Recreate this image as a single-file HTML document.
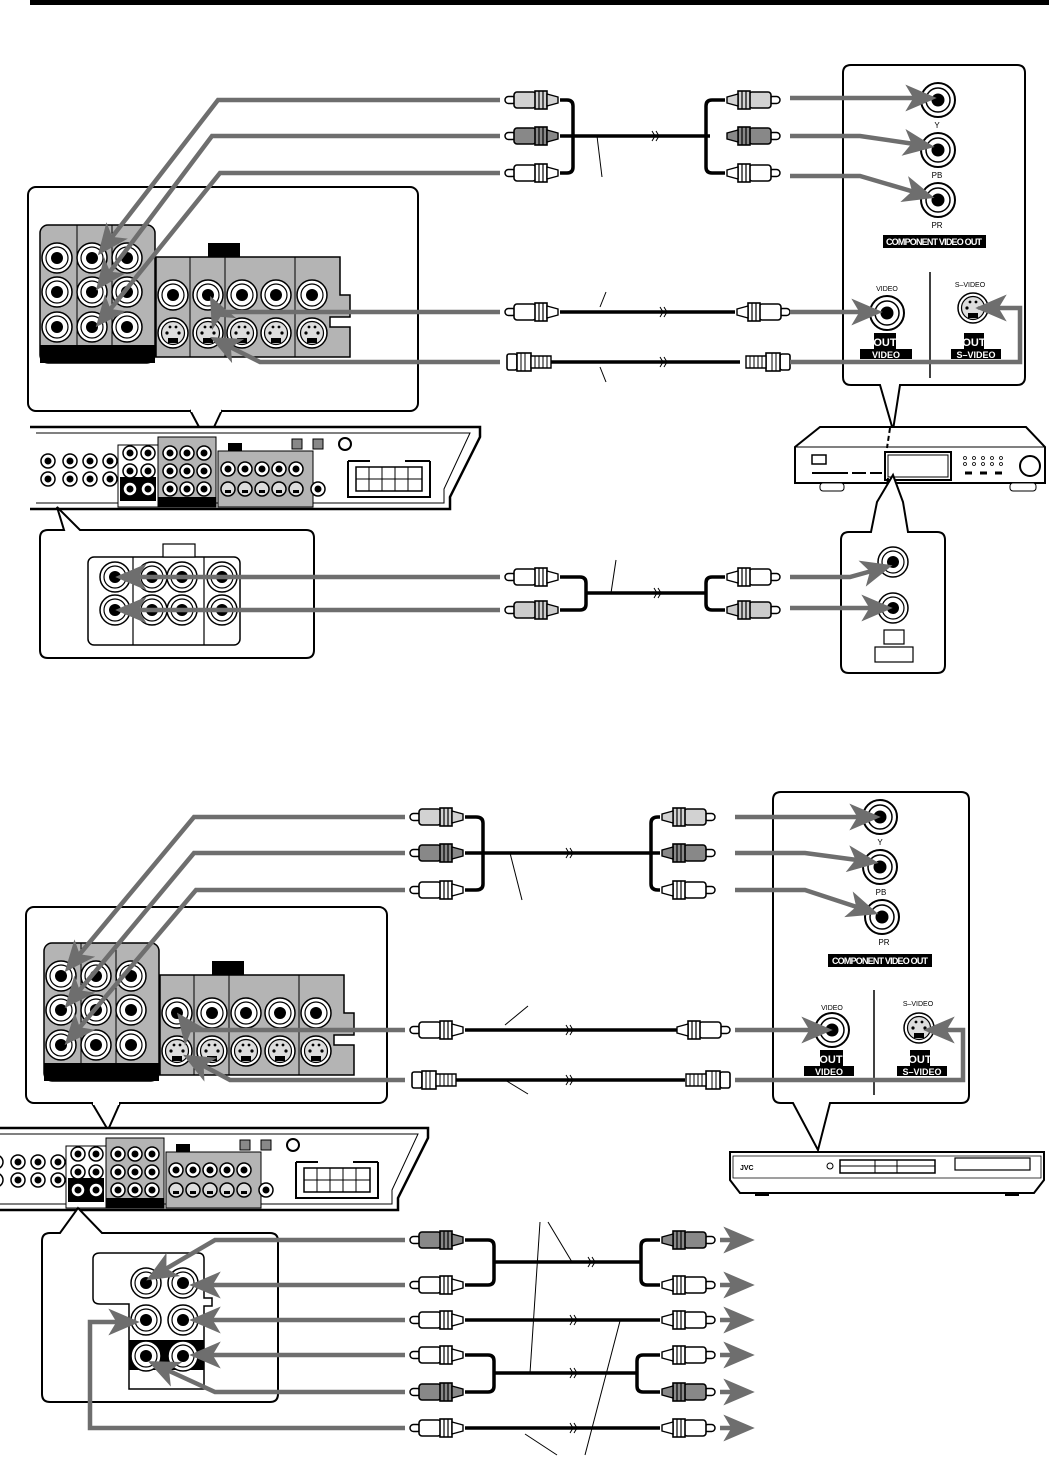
<!DOCTYPE html>
<html><head><meta charset="utf-8"><style>
html,body{margin:0;padding:0;background:#fff;}
svg{display:block;font-family:"Liberation Sans",sans-serif;}
</style></head><body>
<svg width="1049" height="1461" viewBox="0 0 1049 1461" xmlns="http://www.w3.org/2000/svg">
<defs>
<marker id="ah" markerWidth="7" markerHeight="6" refX="5.5" refY="3" orient="auto" markerUnits="strokeWidth"><path d="M0,0 L7,3 L0,6 L1.8,3z" fill="#6e6e6e"/></marker>
<g id="rca"><rect x="0" y="-3.5" width="11" height="7" rx="3.5" fill="#fff" stroke="#000" stroke-width="1.5"/><rect x="9" y="-8" width="22" height="16" rx="3" fill="currentColor" stroke="#000" stroke-width="1.6"/><rect x="30" y="-9" width="12" height="18" fill="currentColor" stroke="#000" stroke-width="1.6"/><path d="M34 -9v18M38 -9v18" stroke="#000" stroke-width="1.2"/><path d="M42 -6 L53 -3 V3 L42 6Z" fill="currentColor" stroke="#000" stroke-width="1.4"/></g>
<g id="rcaR" transform="scale(-1,1)"><use href="#rca"/></g>
<g id="sv"><rect x="0" y="-8" width="10" height="16" rx="2" fill="#fff" stroke="#000" stroke-width="1.6"/><rect x="10" y="-9" width="14" height="18" fill="#fff" stroke="#000" stroke-width="1.6"/><path d="M14 -9v18M18 -9v18" stroke="#000"/><path d="M24 -6 H44 V6 H24Z" fill="#fff" stroke="#000" stroke-width="1.4"/><path d="M28 -6v12M32 -6v12M36 -6v12M40 -6v12" stroke="#000"/></g>
<g id="svR" transform="scale(-1,1)"><use href="#sv"/></g>
<g id="jk"><circle r="17" fill="#fff" stroke="#000" stroke-width="2"/><circle r="12" fill="none" stroke="#000" stroke-width="1.5"/><circle r="6.5" fill="#000"/></g>
<g id="js"><circle r="15" fill="#fff" stroke="#000" stroke-width="1.5"/><circle r="11" fill="none" stroke="#000" stroke-width="1.2"/><circle r="6" fill="#000"/></g>
<g id="jsv"><circle r="15" fill="#fff" stroke="#000" stroke-width="1.5"/><circle r="11.5" fill="#ddd" stroke="#000" stroke-width="1.2"/><rect x="-5" y="5" width="10" height="5" fill="#000"/><circle cx="-6" cy="0" r="1.6"/><circle cx="6" cy="0" r="1.6"/><circle cx="-3" cy="-6" r="1.4"/><circle cx="3" cy="-6" r="1.4"/></g>
<g id="tj"><circle r="7" fill="#fff" stroke="#000" stroke-width="1.5"/><circle r="3.5" fill="#000"/></g>
<g id="tsv"><circle r="7" fill="#ddd" stroke="#000" stroke-width="1.5"/><rect x="-3" y="1" width="6" height="3" fill="#000"/></g>
<g id="panel">
 <rect x="0" y="0" width="115" height="138" rx="8" fill="#b4b4b4" stroke="#000" stroke-width="1.5"/>
 <rect x="0" y="120" width="115" height="18" fill="#000"/>
 <path d="M37 0V120M72 0V120" stroke="#000"/>
 <use href="#js" x="17" y="33"/><use href="#js" x="52" y="33"/><use href="#js" x="87" y="33"/>
 <use href="#js" x="17" y="67"/><use href="#js" x="52" y="67"/><use href="#js" x="87" y="67"/>
 <use href="#js" x="17" y="102"/><use href="#js" x="52" y="102"/><use href="#js" x="87" y="102"/>
 <rect x="168" y="18" width="32" height="14" fill="#000"/>
 <path d="M116 32 H300 V70 H310 V92 H290 V102 H310 V132 H116Z" fill="#b4b4b4" stroke="#000" stroke-width="1.5"/>
 <path d="M150 32V132M185 32V132M255 32V132" stroke="#000"/>
 <use href="#js" x="133" y="70"/><use href="#js" x="168" y="70"/><use href="#js" x="202" y="70"/><use href="#js" x="236" y="70"/><use href="#js" x="272" y="70"/>
 <use href="#jsv" x="133" y="108"/><use href="#jsv" x="168" y="108"/><use href="#jsv" x="202" y="108"/><use href="#jsv" x="236" y="108"/><use href="#jsv" x="272" y="108"/>
</g>
<g id="recv">
 <path d="M0 0 H450 V10 L420 70 V82 H0" fill="#fff" stroke="#000" stroke-width="2.5"/>
 <path d="M6 6 H440 L414 62 V76 H6" fill="none" stroke="#000" stroke-width="1"/>
 <rect x="88" y="18" width="40" height="62" fill="#fff" stroke="#000"/>
 <rect x="90" y="50" width="36" height="24" fill="#000"/>
 <rect x="128" y="10" width="58" height="70" fill="#b4b4b4" stroke="#000"/>
 <rect x="128" y="70" width="58" height="10" fill="#000"/>
 <rect x="188" y="24" width="95" height="56" fill="#b4b4b4" stroke="#000"/>
 <rect x="198" y="16" width="14" height="8" fill="#000"/>
 <use href="#tj" x="40" y="34"/><use href="#tj" x="60" y="34"/><use href="#tj" x="80" y="34"/>
 <use href="#tj" x="40" y="52"/><use href="#tj" x="60" y="52"/><use href="#tj" x="80" y="52"/><use href="#tj" x="18" y="52"/><use href="#tj" x="18" y="34"/>
 <use href="#tj" x="100" y="26"/><use href="#tj" x="118" y="26"/><use href="#tj" x="100" y="44"/><use href="#tj" x="118" y="44"/><use href="#tj" x="100" y="62"/><use href="#tj" x="118" y="62"/>
 <use href="#tj" x="140" y="26"/><use href="#tj" x="157" y="26"/><use href="#tj" x="174" y="26"/>
 <use href="#tj" x="140" y="44"/><use href="#tj" x="157" y="44"/><use href="#tj" x="174" y="44"/>
 <use href="#tj" x="140" y="62"/><use href="#tj" x="157" y="62"/><use href="#tj" x="174" y="62"/>
 <use href="#tj" x="198" y="42"/><use href="#tj" x="215" y="42"/><use href="#tj" x="232" y="42"/><use href="#tj" x="249" y="42"/><use href="#tj" x="266" y="42"/>
 <use href="#tsv" x="198" y="62"/><use href="#tsv" x="215" y="62"/><use href="#tsv" x="232" y="62"/><use href="#tsv" x="249" y="62"/><use href="#tsv" x="266" y="62"/>
 <use href="#tj" x="288" y="62"/>
 <rect x="262" y="12" width="10" height="10" fill="#888" stroke="#000"/><rect x="283" y="12" width="10" height="10" fill="#888" stroke="#000"/><circle cx="315" cy="17" r="6" fill="#fff" stroke="#000" stroke-width="2"/>
 <path d="M318 34 H340 M400 34 H375 M318 34 V70 H400 V34" fill="none" stroke="#000" stroke-width="2"/>
 <rect x="326" y="40" width="66" height="24" fill="#fff" stroke="#000" stroke-width="1.5"/>
 <path d="M339 40V64M352 40V64M365 40V64M378 40V64M326 52H392" stroke="#000"/>
</g>
</defs>

<rect x="30" y="0" width="1019" height="5" fill="#000"/>

<!-- ===== TOP SECTION ===== -->
<rect x="28" y="187" width="390" height="224" rx="8" fill="#fff" stroke="#000" stroke-width="2"/>
<path d="M190 410 L207 442 L222 410" fill="#fff" stroke="#000" stroke-width="2"/>
<rect x="191" y="408" width="30" height="4" fill="#fff"/>
<use href="#panel" x="40" y="225"/>

<use href="#recv" x="30" y="427"/>

<path d="M560 100 H567 Q573 100 573 106 V167 Q573 173 567 173 H560 M560 136 H710 M725 100 H712 Q706 100 706 106 V167 Q706 173 712 173 H725" fill="none" stroke="#000" stroke-width="3.5"/>
<path d="M652 131 l3 5 l-3 5 M656 131 l3 5 l-3 5" fill="none" stroke="#000" stroke-width="1"/>
<use href="#rca" x="505" y="100" color="#d2d2d2"/>
<use href="#rca" x="505" y="136" color="#888"/>
<use href="#rca" x="505" y="173" color="#fff"/>
<use href="#rcaR" x="780" y="100" color="#d2d2d2"/>
<use href="#rcaR" x="780" y="136" color="#888"/>
<use href="#rcaR" x="780" y="173" color="#fff"/>
<path d="M597 136 L602 177" stroke="#000"/>

<path d="M560 312 H735" stroke="#000" stroke-width="3.5"/>
<use href="#rca" x="505" y="312" color="#fff"/>
<use href="#rcaR" x="790" y="312" color="#fff"/>
<path d="M600 307 L606 292" stroke="#000"/>
<path d="M660 307 l3 5 l-3 5 M664 307 l3 5 l-3 5" fill="none" stroke="#000"/>
<path d="M550 362 H740" stroke="#000" stroke-width="3.5"/>
<use href="#sv" x="507" y="362"/>
<use href="#svR" x="790" y="362"/>
<path d="M600 367 L606 382" stroke="#000"/>
<path d="M660 357 l3 5 l-3 5 M664 357 l3 5 l-3 5" fill="none" stroke="#000"/>

<!-- DVD callout top -->
<path d="M853 65 H1017 Q1025 65 1025 73 V377 Q1025 385 1017 385 H900 L893 430 L880 385 H851 Q843 385 843 377 V73 Q843 65 851 65Z" fill="#fff" stroke="#000" stroke-width="2"/>
<use href="#jk" x="938" y="100"/>
<use href="#jk" x="938" y="150"/>
<use href="#jk" x="938" y="200"/>
<text x="937" y="128" font-size="8" text-anchor="middle">Y</text>
<text x="937" y="178" font-size="8" text-anchor="middle">PB</text>
<text x="937" y="228" font-size="8" text-anchor="middle">PR</text>
<rect x="883" y="235" width="103" height="13" fill="#000"/>
<text x="934" y="245" font-size="9" font-weight="bold" fill="#fff" text-anchor="middle" textLength="96">COMPONENT VIDEO OUT</text>
<path d="M930 272 V378" stroke="#000" stroke-width="1.5"/>
<text x="887" y="291" font-size="7" text-anchor="middle">VIDEO</text>
<text x="970" y="287" font-size="7" text-anchor="middle">S–VIDEO</text>
<use href="#jk" x="887" y="313"/>
<use href="#jsv" x="973" y="308"/>
<rect x="874" y="333" width="22" height="16" fill="#000"/><text x="885" y="346" font-size="11" font-weight="bold" fill="#fff" text-anchor="middle">OUT</text>
<rect x="860" y="349" width="52" height="10" fill="#000"/><text x="886" y="358" font-size="9" font-weight="bold" fill="#fff" text-anchor="middle">VIDEO</text>
<rect x="964" y="333" width="20" height="16" fill="#000"/><text x="974" y="346" font-size="11" font-weight="bold" fill="#fff" text-anchor="middle">OUT</text>
<rect x="951" y="349" width="50" height="10" fill="#000"/><text x="976" y="358" font-size="9" font-weight="bold" fill="#fff" text-anchor="middle">S–VIDEO</text>

<g fill="none" stroke="#6e6e6e" stroke-width="4.5" marker-end="url(#ah)">
<path d="M500 100 H218 L102 250"/>
<path d="M500 136 H212 L100 285"/>
<path d="M500 173 H220 L100 322"/>
<path d="M500 312 H218 L213 302"/>
<path d="M500 362 H260 L216 340"/>
<path d="M790 98 H930"/>
<path d="M790 136 H860 L928 146"/>
<path d="M790 176 H860 L928 196"/>
<path d="M790 312 H876"/>
<path d="M790 362 H1020 V308 H982"/>
</g>

<!-- DVD device top -->
<path d="M820 427 H1026 L1045 447 V483 H795 V447Z" fill="#fff" stroke="#000" stroke-width="2"/>
<path d="M795 447 H1045" stroke="#000"/>
<rect x="820" y="483" width="24" height="8" rx="3" fill="#fff" stroke="#000"/>
<rect x="1010" y="483" width="26" height="8" rx="3" fill="#fff" stroke="#000"/>
<rect x="812" y="455" width="14" height="9" fill="#fff" stroke="#000" stroke-width="1.5"/>
<path d="M812 473 H848 M852 473 H866 M870 473 H882" stroke="#000" stroke-width="2"/>
<rect x="885" y="452" width="66" height="28" fill="#fff" stroke="#000" stroke-width="2"/>
<rect x="888" y="455" width="60" height="22" fill="none" stroke="#000"/>
<circle cx="1030" cy="466" r="10" fill="#fff" stroke="#000" stroke-width="2"/>
<path d="M965 473 H972 M980 473 H987 M995 473 H1002" stroke="#000" stroke-width="3"/>
<g fill="none" stroke="#000" stroke-width="0.8"><circle cx="965" cy="458" r="1.5"/><circle cx="974" cy="458" r="1.5"/><circle cx="983" cy="458" r="1.5"/><circle cx="992" cy="458" r="1.5"/><circle cx="1001" cy="458" r="1.5"/><circle cx="965" cy="464" r="1.5"/><circle cx="974" cy="464" r="1.5"/><circle cx="983" cy="464" r="1.5"/><circle cx="992" cy="464" r="1.5"/><circle cx="1001" cy="464" r="1.5"/></g>
<path d="M890 428 L887 448 M888 478 L885 500" stroke="#000" stroke-width="2" stroke-dasharray="5,3"/>

<!-- audio zoom box top -->
<path d="M48 530 H64 L57 507 L80 530 H306 Q314 530 314 538 V650 Q314 658 306 658 H48 Q40 658 40 650 V538 Q40 530 48 530Z" fill="#fff" stroke="#000" stroke-width="2"/>
<rect x="88" y="557" width="152" height="88" rx="6" fill="#fff" stroke="#000" stroke-width="1.5"/>
<rect x="163" y="544" width="32" height="13" fill="#fff" stroke="#000" stroke-width="1.2"/>
<path d="M133 557V645M204 557V645" stroke="#000" stroke-width="1.2"/>
<use href="#js" x="115" y="577"/><use href="#js" x="152" y="577"/><use href="#js" x="182" y="577"/><use href="#js" x="222" y="577"/>
<use href="#js" x="115" y="610"/><use href="#js" x="152" y="610"/><use href="#js" x="182" y="610"/><use href="#js" x="222" y="610"/>
<path d="M560 577 H580 Q586 577 586 583 V604 Q586 610 580 610 H560 M586 593 H706 M725 577 H712 Q706 577 706 583 V604 Q706 610 712 610 H725" fill="none" stroke="#000" stroke-width="3.5"/>
<use href="#rca" x="505" y="577" color="#fff"/>
<use href="#rca" x="505" y="610" color="#ccc"/>
<use href="#rcaR" x="780" y="577" color="#fff"/>
<use href="#rcaR" x="780" y="610" color="#ccc"/>
<path d="M611 593 L616 560" stroke="#000"/>
<path d="M654 588 l3 5 l-3 5 M658 588 l3 5 l-3 5" fill="none" stroke="#000"/>
<path d="M849 532 H871 L877 502 L893 475 L903 502 L908 532 H937 Q945 532 945 540 V665 Q945 673 937 673 H849 Q841 673 841 665 V540 Q841 532 849 532Z" fill="#fff" stroke="#000" stroke-width="2"/>
<use href="#js" x="893" y="562"/><use href="#js" x="893" y="608"/>
<rect x="884" y="630" width="20" height="14" fill="#fff" stroke="#000" stroke-width="1.2"/>
<rect x="875" y="647" width="38" height="15" fill="#fff" stroke="#000" stroke-width="1.2"/>
<g fill="none" stroke="#6e6e6e" stroke-width="4.5" marker-end="url(#ah)">
<path d="M500 577 H122"/>
<path d="M500 610 H122"/>
<path d="M790 577 H850 L886 567"/>
<path d="M790 608 H886"/>
</g>

<!-- ===== BOTTOM SECTION ===== -->
<rect x="26" y="907" width="361" height="196" rx="8" fill="#fff" stroke="#000" stroke-width="2"/>
<path d="M92 1103 L108 1130 L120 1103" fill="#fff" stroke="#000" stroke-width="2"/>
<rect x="93" y="1101" width="26" height="4" fill="#fff"/>
<use href="#panel" x="44" y="943"/>
<use href="#recv" x="-22" y="1128"/>

<path d="M465 817 H476 Q483 817 483 823 V884 Q483 890 476 890 H465 M465 853 H660 M660 817 H658 Q651 817 651 823 V884 Q651 890 658 890 H660" fill="none" stroke="#000" stroke-width="3.5"/>
<use href="#rca" x="410" y="817" color="#d2d2d2"/>
<use href="#rca" x="410" y="853" color="#888"/>
<use href="#rca" x="410" y="890" color="#fff"/>
<use href="#rcaR" x="715" y="817" color="#d2d2d2"/>
<use href="#rcaR" x="715" y="853" color="#888"/>
<use href="#rcaR" x="715" y="890" color="#fff"/>
<path d="M510 853 L522 900" stroke="#000"/>
<path d="M566 848 l3 5 l-3 5 M570 848 l3 5 l-3 5" fill="none" stroke="#000"/>

<path d="M465 1030 H680" stroke="#000" stroke-width="3.5"/>
<use href="#rca" x="410" y="1030" color="#fff"/>
<use href="#rcaR" x="730" y="1030" color="#fff"/>
<path d="M505 1025 L528 1006" stroke="#000"/>
<path d="M566 1025 l3 5 l-3 5 M570 1025 l3 5 l-3 5" fill="none" stroke="#000"/>
<path d="M455 1080 H685" stroke="#000" stroke-width="3.5"/>
<use href="#sv" x="412" y="1080"/>
<use href="#svR" x="730" y="1080"/>
<path d="M505 1080 L528 1094" stroke="#000"/>
<path d="M566 1075 l3 5 l-3 5 M570 1075 l3 5 l-3 5" fill="none" stroke="#000"/>

<!-- DVD callout bottom -->
<path d="M781 792 H961 Q969 792 969 800 V1095 Q969 1103 961 1103 H830 L818 1150 L793 1103 H781 Q773 1103 773 1095 V800 Q773 792 781 792Z" fill="#fff" stroke="#000" stroke-width="2"/>
<use href="#jk" x="880" y="817"/>
<use href="#jk" x="880" y="867"/>
<use href="#jk" x="882" y="917"/>
<text x="880" y="845" font-size="8" text-anchor="middle">Y</text>
<text x="881" y="895" font-size="8" text-anchor="middle">PB</text>
<text x="884" y="945" font-size="8" text-anchor="middle">PR</text>
<rect x="828" y="954" width="104" height="13" fill="#000"/>
<text x="880" y="964" font-size="9" font-weight="bold" fill="#fff" text-anchor="middle" textLength="96">COMPONENT VIDEO OUT</text>
<path d="M874 990 V1095" stroke="#000" stroke-width="1.5"/>
<text x="832" y="1010" font-size="7" text-anchor="middle">VIDEO</text>
<text x="918" y="1006" font-size="7" text-anchor="middle">S–VIDEO</text>
<use href="#jk" x="832" y="1030"/>
<use href="#jsv" x="919" y="1028"/>
<rect x="820" y="1050" width="23" height="16" fill="#000"/><text x="831" y="1063" font-size="11" font-weight="bold" fill="#fff" text-anchor="middle">OUT</text>
<rect x="804" y="1066" width="50" height="10" fill="#000"/><text x="829" y="1075" font-size="9" font-weight="bold" fill="#fff" text-anchor="middle">VIDEO</text>
<rect x="910" y="1050" width="20" height="16" fill="#000"/><text x="920" y="1063" font-size="11" font-weight="bold" fill="#fff" text-anchor="middle">OUT</text>
<rect x="897" y="1066" width="50" height="10" fill="#000"/><text x="922" y="1075" font-size="9" font-weight="bold" fill="#fff" text-anchor="middle">S–VIDEO</text>

<g fill="none" stroke="#6e6e6e" stroke-width="4.5" marker-end="url(#ah)">
<path d="M405 817 H194 L69 967"/>
<path d="M405 853 H194 L69 1003"/>
<path d="M405 890 H196 L69 1040"/>
<path d="M405 1030 H190 L181 1018"/>
<path d="M405 1080 H230 L189 1058"/>
<path d="M735 817 H874"/>
<path d="M735 853 H805 L872 862"/>
<path d="M735 890 H805 L872 912"/>
<path d="M735 1030 H826"/>
<path d="M735 1080 H963 V1030 H930"/>
</g>

<!-- DVD device bottom -->
<path d="M730 1152 H1044 V1180 L1034 1193 H740 L730 1180Z" fill="#fff" stroke="#000" stroke-width="2"/>
<path d="M733 1156 H1041 V1178 H733Z" fill="none" stroke="#000" stroke-width="0.8"/>
<text x="740" y="1170" font-size="7" font-weight="bold">JVC</text>
<circle cx="830" cy="1166" r="3" fill="none" stroke="#000"/>
<rect x="840" y="1160" width="95" height="13" fill="none" stroke="#000" stroke-width="1.5"/>
<path d="M840 1166 H935 M875 1160 V1173 M897 1160 V1173" stroke="#000"/>
<rect x="955" y="1158" width="75" height="12" fill="none" stroke="#000" stroke-width="1.2"/>
<rect x="755" y="1193" width="14" height="3" fill="#000"/><rect x="1005" y="1193" width="14" height="3" fill="#000"/>

<!-- audio zoom box bottom -->
<path d="M50 1233 H60 L78 1208 L102 1233 H270 Q278 1233 278 1241 V1394 Q278 1402 270 1402 H50 Q42 1402 42 1394 V1241 Q42 1233 50 1233Z" fill="#fff" stroke="#000" stroke-width="2"/>
<path d="M100 1253 H198 Q204 1253 204 1259 V1298 H212 V1306 H204 V1389 H129 V1304 H100 Q93 1304 93 1298 V1259 Q93 1253 100 1253Z" fill="#fff" stroke="#000" stroke-width="1.5"/>
<rect x="129" y="1340" width="75" height="30" fill="#000"/>
<use href="#js" x="146" y="1283"/><use href="#js" x="183" y="1283"/>
<use href="#js" x="146" y="1320"/><use href="#js" x="183" y="1320"/>
<use href="#js" x="146" y="1356"/><use href="#js" x="183" y="1356"/>

<path d="M465 1240 H488 Q494 1240 494 1246 V1279 Q494 1285 488 1285 H465 M494 1262 H640 M660 1240 H647 Q641 1240 641 1246 V1279 Q641 1285 647 1285 H660" fill="none" stroke="#000" stroke-width="3.5"/>
<path d="M465 1320 H660" stroke="#000" stroke-width="3.5"/>
<path d="M465 1355 H488 Q494 1355 494 1361 V1386 Q494 1392 488 1392 H465 M494 1373 H637 M660 1355 H643 Q637 1355 637 1361 V1386 Q637 1392 643 1392 H660" fill="none" stroke="#000" stroke-width="3.5"/>
<path d="M465 1428 H660" stroke="#000" stroke-width="3.5"/>
<use href="#rca" x="410" y="1240" color="#888"/>
<use href="#rca" x="410" y="1285" color="#fff"/>
<use href="#rca" x="410" y="1320" color="#fff"/>
<use href="#rca" x="410" y="1355" color="#fff"/>
<use href="#rca" x="410" y="1392" color="#888"/>
<use href="#rca" x="410" y="1428" color="#fff"/>
<use href="#rcaR" x="715" y="1240" color="#888"/>
<use href="#rcaR" x="715" y="1285" color="#fff"/>
<use href="#rcaR" x="715" y="1320" color="#fff"/>
<use href="#rcaR" x="715" y="1355" color="#fff"/>
<use href="#rcaR" x="715" y="1392" color="#888"/>
<use href="#rcaR" x="715" y="1428" color="#fff"/>
<g fill="none" stroke="#000" stroke-width="1">
<path d="M588 1257 l3 5 l-3 5 M592 1257 l3 5 l-3 5"/>
<path d="M570 1315 l3 5 l-3 5 M574 1315 l3 5 l-3 5"/>
<path d="M570 1368 l3 5 l-3 5 M574 1368 l3 5 l-3 5"/>
<path d="M570 1423 l3 5 l-3 5 M574 1423 l3 5 l-3 5"/>
<path d="M540 1222 L530 1373"/>
<path d="M548 1222 L572 1262"/>
<path d="M585 1455 L620 1321"/>
<path d="M557 1455 L525 1434"/>
</g>
<g fill="none" stroke="#6e6e6e" stroke-width="4.5" marker-end="url(#ah)">
<path d="M405 1240 H215 L152 1277"/>
<path d="M405 1285 H196"/>
<path d="M405 1320 H196"/>
<path d="M405 1355 H196"/>
<path d="M405 1392 H215 L154 1364"/>
<path d="M405 1428 H90 V1322 H133"/>
<path d="M720 1240 H748"/>
<path d="M720 1285 H748"/>
<path d="M720 1320 H748"/>
<path d="M720 1355 H748"/>
<path d="M720 1392 H748"/>
<path d="M720 1428 H748"/>
</g>
</svg>
</body></html>
